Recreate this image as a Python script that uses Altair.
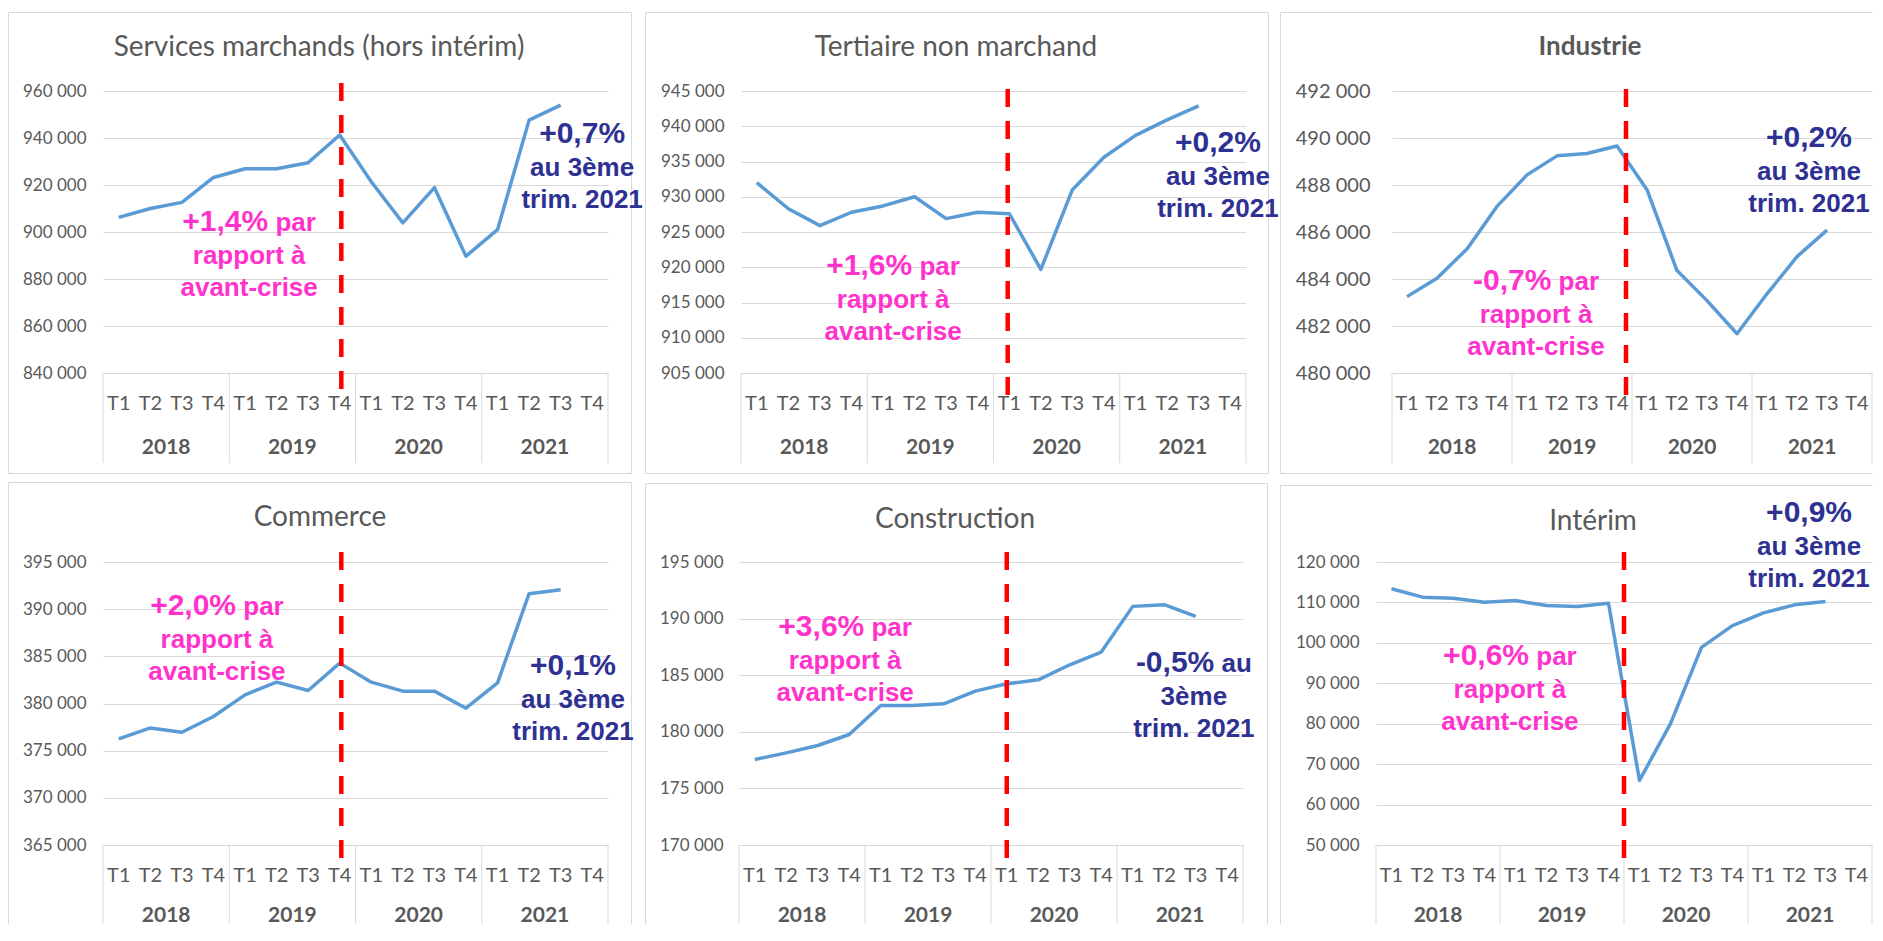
import altair as alt
import pandas as pd

# ---------------- data ----------------
QUARTERS = ["T1", "T2", "T3", "T4"]
YEARS = ["2018", "2019", "2020", "2021"]

TITLES = ["Services marchands (hors intérim)", "Tertiaire non marchand", "Industrie",
          "Commerce", "Construction", "Intérim"]

SERVICES = [906200, 910000, 912600, 923200, 926900, 926900, 929500, 941300,
            921400, 903900, 918900, 889700, 901000, 947600, 954000]
TERTIAIRE = [932000, 928300, 925900, 927800, 928700, 930000, 926900, 927800,
             927600, 919700, 931000, 935600, 938700, 940900, 942900]
INDUSTRIE = [483250, 484030, 485280, 487090, 488430, 489240, 489340, 489660,
             487800, 484360, 483080, 481670, 483370, 484950, 486080]
COMMERCE = [376250, 377410, 376950, 378620, 380920, 382260, 381380, 384280,
            382260, 381310, 381310, 379500, 382190, 391640, 392060]
CONSTRUCTION = [177550, 178140, 178790, 179760, 182320, 182320, 182470, 183590,
                184240, 184590, 185920, 187040, 191080, 191230, 190190]
INTERIM = [113370, 111300, 111050, 110060, 110470, 109230, 108980, 109810,
           65980, 80000, 98870, 104260, 107410, 109400, 110220]
SERIES = [SERVICES, TERTIAIRE, INDUSTRIE, COMMERCE, CONSTRUCTION, INTERIM]

TICKS_SERVICES = [840000, 860000, 880000, 900000, 920000, 940000, 960000]
TICKS_TERTIAIRE = [905000, 910000, 915000, 920000, 925000, 930000, 935000, 940000, 945000]
TICKS_INDUSTRIE = [480000, 482000, 484000, 486000, 488000, 490000, 492000]
TICKS_COMMERCE = [365000, 370000, 375000, 380000, 385000, 390000, 395000]
TICKS_CONSTRUCTION = [170000, 175000, 180000, 185000, 190000, 195000]
TICKS_INTERIM = [50000, 60000, 70000, 80000, 90000, 100000, 110000, 120000]
TICKS = [TICKS_SERVICES, TICKS_TERTIAIRE, TICKS_INDUSTRIE,
         TICKS_COMMERCE, TICKS_CONSTRUCTION, TICKS_INTERIM]

# position (in quarter units) of the red "pre-crisis" marker
CRISIS = [7.55, 8.45, 7.8, 7.55, 8.5, 8.0]

PINK_NOTES = [["+1,4%", "par", "rapport à", "avant-crise"],
              ["+1,6%", "par", "rapport à", "avant-crise"],
              ["-0,7%", "par", "rapport à", "avant-crise"],
              ["+2,0%", "par", "rapport à", "avant-crise"],
              ["+3,6%", "par", "rapport à", "avant-crise"],
              ["+0,6%", "par", "rapport à", "avant-crise"]]
BLUE_NOTES = [["+0,7%", "", "au 3ème", "trim. 2021"],
              ["+0,2%", "", "au 3ème", "trim. 2021"],
              ["+0,2%", "", "au 3ème", "trim. 2021"],
              ["+0,1%", "", "au 3ème", "trim. 2021"],
              ["-0,5%", "au", "3ème", "trim. 2021"],
              ["+0,9%", "", "au 3ème", "trim. 2021"]]
# anchors (quarter position, value) of the first line of each note
PINK_AT = [(4.63, 904700), (4.82, 920300), (4.8, 483940),
           (3.61, 390440), (3.37, 189350), (4.32, 96900)]
BLUE_AT = [(15.18, 942130), (15.11, 937770), (13.9, 490040),
           (14.89, 384080), (14.44, 186170), (13.97, 132400)]

# ---------------- styles / layout ----------------
LINE_BLUE = "#5B9BD5"
GRID = "#D9D9D9"
GRAY = "#595959"
PINK = "#FF33CC"
NAVY = "#2E3192"
RED = "#FF0000"
LABEL_FONT = "Lato, 'Open Sans', sans-serif"
NOTE_FONT = "'Liberation Sans', Arial, sans-serif"
BIG, SMALL = 30, 26

LAYOUT = [
    dict(W=505, H=282, box=(-95, 541, -79, 391), frame=(-95, 528, -79, 382), edges="tlrb",
         title=(216, -43), bold=False, ylab=17, ypad=17, red=(-8, 22), tY=31, yY=75, sep=90),
    dict(W=505, H=282, box=(-97, 539, -79, 391), frame=(-96, 527, -79, 382), edges="tlrb",
         title=(215, -43), bold=False, ylab=17, ypad=17, red=(-2, 29), tY=31, yY=75, sep=90),
    dict(W=480, H=282, box=(-112, 480, -79, 391), frame=(-112, 480, -79, 382), edges="tlb",
         title=(198, -44), bold=True, ylab=20, ypad=22, red=(-2, 25), tY=31, yY=75, sep=90),
    dict(W=505, H=283, box=(-95, 541, -80, 362), frame=(-95, 528, -80, 362), edges="tlr",
         title=(217, -44), bold=False, ylab=17, ypad=17, red=(-10, 20), tY=31, yY=71, sep=79),
    dict(W=504, H=283, box=(-95, 539, -80, 362), frame=(-94, 528, -79, 362), edges="tlr",
         title=(216, -42), bold=False, ylab=17, ypad=16, red=(-10, 18), tY=31, yY=71, sep=79),
    dict(W=496, H=283, box=(-98, 496, -80, 362), frame=(-96, 496, -77, 362), edges="tl",
         title=(217, -40), bold=False, ylab=17, ypad=17, red=(-10, 19), tY=31, yY=71, sep=79),
]

ADV = {" ": 278, "+": 584, "-": 333, ",": 278, ".": 278, "%": 889, "a": 556, "u": 611,
       "p": 611, "r": 389, "è": 556, "e": 556, "m": 889, "t": 333, "i": 278}


def tw(s, size):
    return sum(ADV.get(c, 556) for c in s) / 1000 * size


ONE = pd.DataFrame({"k": [0]})


def yaxis(k):
    s = LAYOUT[k]
    return alt.Axis(
        values=TICKS[k], labelExpr="replace(format(datum.value, ','), ',', ' ')",
        domain=False, ticks=False, tickSize=0, grid=True, gridColor=GRID, gridWidth=1,
        labelFont=LABEL_FONT, labelFontSize=s["ylab"], labelColor=GRAY,
        labelPadding=s["ypad"], title=None)


def note(k, xs, ys, anchor, parts, color):
    big, rest, l2, l3 = parts
    d = pd.DataFrame({"x": [anchor[0]], "v": [anchor[1]]})
    enc = dict(x=alt.X("x:Q", scale=xs, axis=None),
               y=alt.Y("v:Q", scale=ys, axis=yaxis(k)))
    common = dict(font=NOTE_FONT, fontWeight="bold", color=color, baseline="alphabetic")
    out = []
    if rest:
        w1, ws, w2 = tw(big, BIG), tw(" ", SMALL), tw(rest, SMALL)
        dx1 = -(w1 + ws + w2) / 2 + w1
        out.append(alt.Chart(d).mark_text(fontSize=BIG, align="right", dx=dx1, dy=10, **common)
                   .encode(text=alt.value(big), **enc))
        out.append(alt.Chart(d).mark_text(fontSize=SMALL, align="left", dx=dx1 + ws, dy=10, **common)
                   .encode(text=alt.value(rest), **enc))
    else:
        out.append(alt.Chart(d).mark_text(fontSize=BIG, align="center", dy=10, **common)
                   .encode(text=alt.value(big), **enc))
    out.append(alt.Chart(d).mark_text(fontSize=SMALL, align="center", dy=43, **common)
               .encode(text=alt.value(l2), **enc))
    out.append(alt.Chart(d).mark_text(fontSize=SMALL, align="center", dy=75, **common)
               .encode(text=alt.value(l3), **enc))
    return out


def panel(k):
    s = LAYOUT[k]
    W, H = s["W"], s["H"]
    vals = SERIES[k]
    ticks = TICKS[k]
    xs = alt.Scale(domain=[0, 16], nice=False, zero=False)
    ys = alt.Scale(domain=[ticks[0], ticks[-1]], nice=False, zero=False)
    layers = []

    # invisible box that defines the panel's extent
    x1, x2, y1, y2 = s["box"]
    layers.append(alt.Chart(ONE).mark_rect(fill="white", fillOpacity=0).encode(
        x=alt.value(x1), x2=alt.value(x2), y=alt.value(y1), y2=alt.value(y2)))

    # frame edges
    fx1, fx2, fy1, fy2 = s["frame"]
    segs = {"t": (fx1, fx2, fy1, fy1), "b": (fx1, fx2, fy2, fy2),
            "l": (fx1, fx1, fy1, fy2), "r": (fx2, fx2, fy1, fy2)}
    for e in s["edges"]:
        a, b, c, d = segs[e]
        layers.append(alt.Chart(ONE).mark_rule(color=GRID, strokeWidth=1).encode(
            x=alt.value(a + 0.5), x2=alt.value(b + 0.5), y=alt.value(c + 0.5), y2=alt.value(d + 0.5)))

    # title
    tx, ty = s["title"]
    layers.append(alt.Chart(ONE).mark_text(
        font=LABEL_FONT, fontSize=26 if s["bold"] else 28, color=GRAY, baseline="middle",
        align="center", fontWeight="bold" if s["bold"] else "normal").encode(
        x=alt.value(tx), y=alt.value(ty), text=alt.value(TITLES[k])))

    # data line with y axis / gridlines
    df = pd.DataFrame({"x": [i + 0.5 for i in range(len(vals))], "v": vals})
    layers.append(alt.Chart(df).mark_line(color=LINE_BLUE, strokeWidth=3.5, strokeJoin="round").encode(
        x=alt.X("x:Q", scale=xs, axis=None),
        y=alt.Y("v:Q", scale=ys, axis=yaxis(k))))

    # quarter labels
    qdf = pd.DataFrame({"x": [i + 0.5 for i in range(16)],
                        "t": [QUARTERS[i % 4] for i in range(16)]})
    layers.append(alt.Chart(qdf).mark_text(font=LABEL_FONT, fontSize=20, color=GRAY,
                                           baseline="middle").encode(
        x=alt.X("x:Q", scale=xs, axis=None), y=alt.value(H + s["tY"]), text="t:N"))
    # year labels
    ydf = pd.DataFrame({"x": [4 * j + 2 for j in range(4)], "t": YEARS})
    layers.append(alt.Chart(ydf).mark_text(font=LABEL_FONT, fontSize=21, fontWeight="bold",
                                           color=GRAY, baseline="middle").encode(
        x=alt.X("x:Q", scale=xs, axis=None), y=alt.value(H + s["yY"]), text="t:N"))
    # year separators
    sdf = pd.DataFrame({"x": [0, 4, 8, 12, 16]})
    layers.append(alt.Chart(sdf).mark_rule(color=GRID, strokeWidth=1).encode(
        x=alt.X("x:Q", scale=xs, axis=None), y=alt.value(H), y2=alt.value(H + s["sep"])))

    # red dashed marker
    r0, r1 = s["red"]
    layers.append(alt.Chart(pd.DataFrame({"x": [CRISIS[k]]})).mark_rule(
        color=RED, strokeWidth=4.5, strokeDash=[18, 14]).encode(
        x=alt.X("x:Q", scale=xs, axis=None), y=alt.value(r0), y2=alt.value(H + r1)))

    # notes
    layers += note(k, xs, ys, PINK_AT[k], PINK_NOTES[k], PINK)
    layers += note(k, xs, ys, BLUE_AT[k], BLUE_NOTES[k], NAVY)

    return alt.layer(*layers).properties(width=W, height=H)


row1 = alt.hconcat(panel(0), panel(1), panel(2), spacing=0)
row2 = alt.hconcat(panel(3), panel(4), panel(5), spacing=0)
chart = alt.vconcat(row1, row2, spacing=0).properties(
    padding={"left": 0, "top": 4, "right": 0, "bottom": 0},
    background="white",
).configure_view(strokeWidth=0)

chart.save("out.html", embed_options={"renderer": "svg", "actions": False})
